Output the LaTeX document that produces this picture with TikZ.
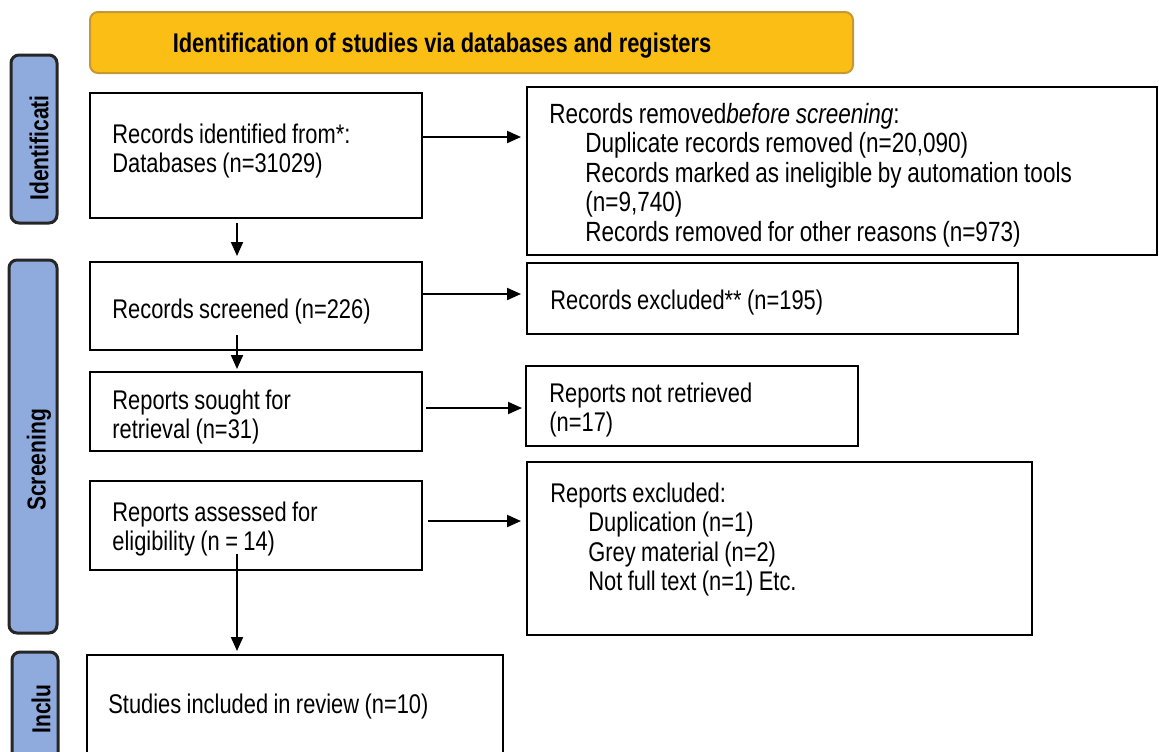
\documentclass[tikz,border=0pt]{standalone}
\usepackage{fontspec}
\setmainfont{Liberation Sans}[FakeStretch=0.81]
\usetikzlibrary{arrows.meta,fit,positioning}
\definecolor{headfill}{RGB}{251,190,20}
\definecolor{headedge}{RGB}{196,152,52}
\definecolor{phasefill}{RGB}{143,170,220}
\definecolor{phaseedge}{RGB}{38,38,38}
\tikzset{%
	box/.style      = {draw, rectangle, line width=1pt, inner sep=0pt}, % Record box
	head/.style     = {draw=headedge, fill=headfill, rounded corners=4pt, line width=1pt, inner sep=0pt},
	headtxt/.style  = {anchor=base, inner sep=0pt, font=\fontsize{13.5}{15}\selectfont\bfseries},
	phase/.style    = {draw=phaseedge, fill=phasefill, rounded corners=4pt, line width=1.5pt, inner sep=0pt},
	phasetxt/.style = {rotate=90, inner sep=0pt, font=\fontsize{13}{15}\selectfont\bfseries},
	txt/.style      = {anchor=base west, inner sep=0pt, text width=300pt, font=\fontsize{13.5}{14.75}\selectfont,
	                   execute at begin node={\spaceskip=0.2em\relax}},
	arrow/.style    = {line width=1pt, -{Triangle[length=7pt,width=6pt]}},
}

\begin{document}
\begin{tikzpicture}[x=0.5pt,y=-0.5pt]
	\useasboundingbox (0,0) rectangle (1159,751);
	
	% header
	\node [head, fit={(90,12) (853,73)}] (head) {};
	\node [headtxt] (head-t) at (442,52) {Identification of studies via databases and registers};
	
	% phase labels
	\node [phase, fit={(11,55) (57,223)}] (idlab) {};
	\node [phasetxt] (idlab-t) at (39,148) {Identificati};
	\node [phase, fit={(9,260) (57,633)}] (scrlab) {};
	\node [phasetxt] (scrlab-t) at (39,460) {Screening};
	\node [phase, fit={(12,652) (58,770)}] (inclab) {};
	\node [phasetxt] (inclab-t) at (41,709) {Inclu};
	
	% left column
	\node [box, fit={(90,93) (422,218)}] (ident) {};
	\node [txt] (ident-t) at (112,143) {Records identified from*:\\Databases (n=31029)};
	\node [box, fit={(90,262) (422,350)}] (screened) {};
	\node [txt] (screened-t) at (112,318) {Records screened (n=226)};
	\node [box, fit={(90,372) (422,451)}] (sought) {};
	\node [txt] (sought-t) at (112,409) {Reports sought for\\retrieval (n=31)};
	\node [box, fit={(90,481) (422,570)}] (assessed) {};
	\node [txt] (assessed-t) at (112,521) {Reports assessed for\\eligibility (n = 14)};
	\node [box, fit={(87,655) (503,770)}] (included) {};
	\node [txt] (included-t) at (108,713) {Studies included in review (n=10)};
	
	% right column
	\node [box, fit={(527,87) (1157,255)}] (removed) {};
	\node [txt, font=\fontsize{13.9}{14.75}\selectfont] (removed-t) at (549,123) {Records removed\textit{before screening}:\\
		\hspace*{18pt}Duplicate records removed (n=20,090)\\
		\hspace*{18pt}Records marked as ineligible by automation tools\\
		\hspace*{18pt}(n=9,740)\\
		\hspace*{18pt}Records removed for other reasons (n=973)};
	\node [box, fit={(527,263) (1018,334)}] (excluded) {};
	\node [txt] (excluded-t) at (550,309) {Records excluded** (n=195)};
	\node [box, fit={(526,366) (858,446)}] (notret) {};
	\node [txt] (notret-t) at (549,402) {Reports not retrieved\\(n=17)};
	\node [box, fit={(527,462) (1032,635)}] (repexcl) {};
	\node [txt] (repexcl-t) at (550,502) {Reports excluded:\\
		\hspace*{19pt}Duplication (n=1)\\
		\hspace*{19pt}Grey material (n=2)\\
		\hspace*{19pt}Not full text (n=1) Etc.};
	
	% arrows
	\coordinate (spine) at (237,0);
	\coordinate (row1) at (0,137);
	\coordinate (row2) at (0,294);
	\coordinate (row3) at (0,408);
	\coordinate (row4) at (0,521);
	\draw [arrow, shorten >=2.5pt] (ident.east |- row1) -- (removed.west |- row1);
	\draw [arrow, shorten >=2.5pt] (screened.east |- row2) -- (excluded.west |- row2);
	\draw [arrow, shorten <=1.5pt, shorten >=1.5pt] (sought.east |- row3) -- (notret.west |- row3);
	\draw [arrow, shorten <=2.5pt, shorten >=2.5pt] (assessed.east |- row4) -- (repexcl.west |- row4);
	\draw [arrow, shorten <=2pt, shorten >=2.5pt] (ident.south -| spine) -- (screened.north -| spine);
	\draw [arrow, shorten <=-8pt, shorten >=1pt] (screened.south -| spine) -- (sought.north -| spine);
	\draw [arrow, shorten <=-8.5pt, shorten >=1.5pt] (assessed.south -| spine) -- (included.north -| spine);
\end{tikzpicture}
\end{document}
